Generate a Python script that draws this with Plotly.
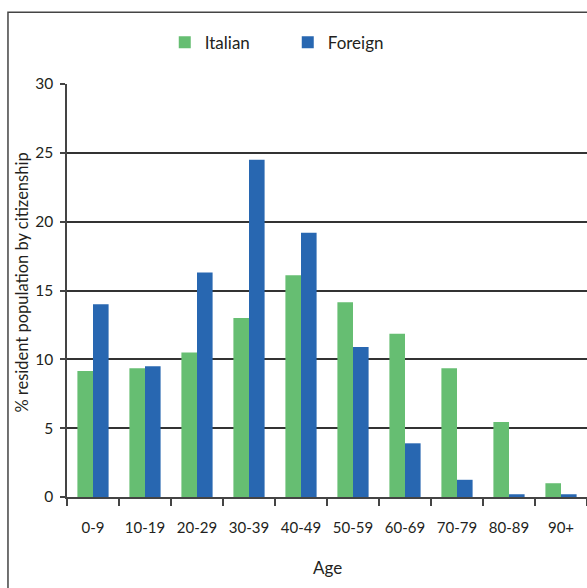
import plotly.graph_objects as go

ages = ["0-9", "10-19", "20-29", "30-39", "40-49", "50-59", "60-69", "70-79", "80-89", "90+"]
italian = [9.15, 9.35, 10.5, 13.0, 16.1, 14.15, 11.85, 9.35, 5.45, 1.0]
foreign = [14.0, 9.5, 16.3, 24.5, 19.2, 10.9, 3.9, 1.25, 0.2, 0.2]

FONT = "Lato"
fig = go.Figure()
fig.add_trace(go.Bar(x=ages, y=italian, name="Italian", marker_color="#66BE72", marker_line_width=0))
fig.add_trace(go.Bar(x=ages, y=foreign, name="Foreign", marker_color="#2867B1", marker_line_width=0))

fig.update_layout(
    width=587, height=588,
    margin=dict(l=67, r=0, t=84, b=91),
    paper_bgcolor="white", plot_bgcolor="white",
    barmode="group", bargap=0.4, bargroupgap=0,
    font=dict(family=FONT, size=15, color="#231f20"),
    showlegend=True,
    legend=dict(orientation="h", x=0.188, xanchor="left", y=1.1, yanchor="middle",
                font=dict(size=17), itemwidth=30, entrywidth=78, traceorder="normal"),
    xaxis=dict(showline=True, linecolor="#444", linewidth=1.5, ticks="outside", tickson="boundaries",
               ticklen=7, tickcolor="#444", tickwidth=1.5, ticklabelstandoff=16, tickangle=0,
               automargin=False),
    yaxis=dict(range=[0, 30], dtick=5, showline=True, linecolor="#444", linewidth=1.5,
               ticks="outside", ticklen=5, tickcolor="#444", tickwidth=1.5,
               showgrid=True, gridcolor="#333", gridwidth=1.5, zeroline=False,
               ticklabelstandoff=4, automargin=False, tickfont=dict(size=15.5)),
    annotations=[
        dict(text="% resident population by citizenship", xref="paper", yref="paper",
             x=-0.0855, y=0.518, textangle=-90, showarrow=False, font=dict(size=16.5),
             xanchor="center", yanchor="middle"),
        dict(text="Age", xref="paper", yref="paper", x=0.5, y=-0.1695, showarrow=False,
             font=dict(size=17), xanchor="center", yanchor="middle"),
    ],
)
fig.add_shape(type="rect", xref="paper", yref="paper", x0=-0.1135, x1=1.05, y0=-0.25, y1=1.174,
              line=dict(color="#444", width=1.5), fillcolor="rgba(0,0,0,0)", layer="below")
fig.write_html("out.html")
